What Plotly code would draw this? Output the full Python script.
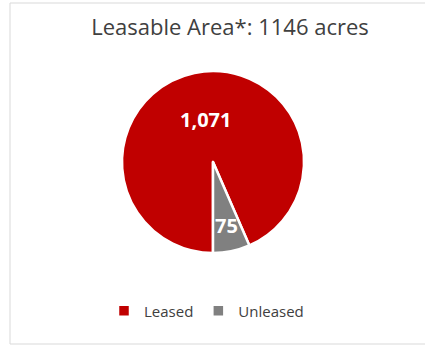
import plotly.graph_objects as go

categories = ["Leased", "Unleased"]
values = [1071, 75]
colors = ["#C00000", "#808080"]
title_text = "Leasable Area*: 1146 acres"

W, H = 425, 346
cx, cy, r = 213, 162, 91

fig = go.Figure(go.Pie(
    labels=categories,
    values=values,
    sort=False,
    direction="clockwise",
    rotation=180,
    marker=dict(colors=colors, line=dict(color="white", width=2.5)),
    textinfo="none",
    hoverinfo="label+value",
    domain=dict(x=[(cx - r) / W, (cx + r) / W], y=[(H - cy - r) / H, (H - cy + r) / H]),
))

label_pos = [(205, 119), (226, 226)]
for v, (px, py) in zip(values, label_pos):
    fig.add_annotation(
        x=px / W, y=1 - py / H, xref="paper", yref="paper",
        text=f"<b>{v:,}</b>", showarrow=False,
        font=dict(family="Open Sans", size=20, color="white"),
        xanchor="center", yanchor="middle",
    )

fig.add_shape(type="rect", xref="paper", yref="paper",
              x0=10 / W, x1=1.02, y0=1 - 344 / H, y1=1 - 3 / H,
              line=dict(color="#D9D9D9", width=1), fillcolor="rgba(0,0,0,0)")

fig.update_layout(
    width=W, height=H,
    margin=dict(l=0, r=0, t=0, b=0),
    paper_bgcolor="white",
    title=dict(text=title_text, x=230 / W, xanchor="center", y=1 - 27 / H, yanchor="middle",
               font=dict(family="Open Sans", size=22, color="#404040")),
    showlegend=True,
    legend=dict(orientation="h", x=0.5 - 6 / W, xanchor="center", y=1 - 311 / H, yanchor="middle",
                font=dict(family="Open Sans", size=15, color="#404040")),
)

fig.write_html("out.html", config={"displayModeBar": False},
               post_script="document.body.style.margin='0';document.body.style.overflow='hidden';")
